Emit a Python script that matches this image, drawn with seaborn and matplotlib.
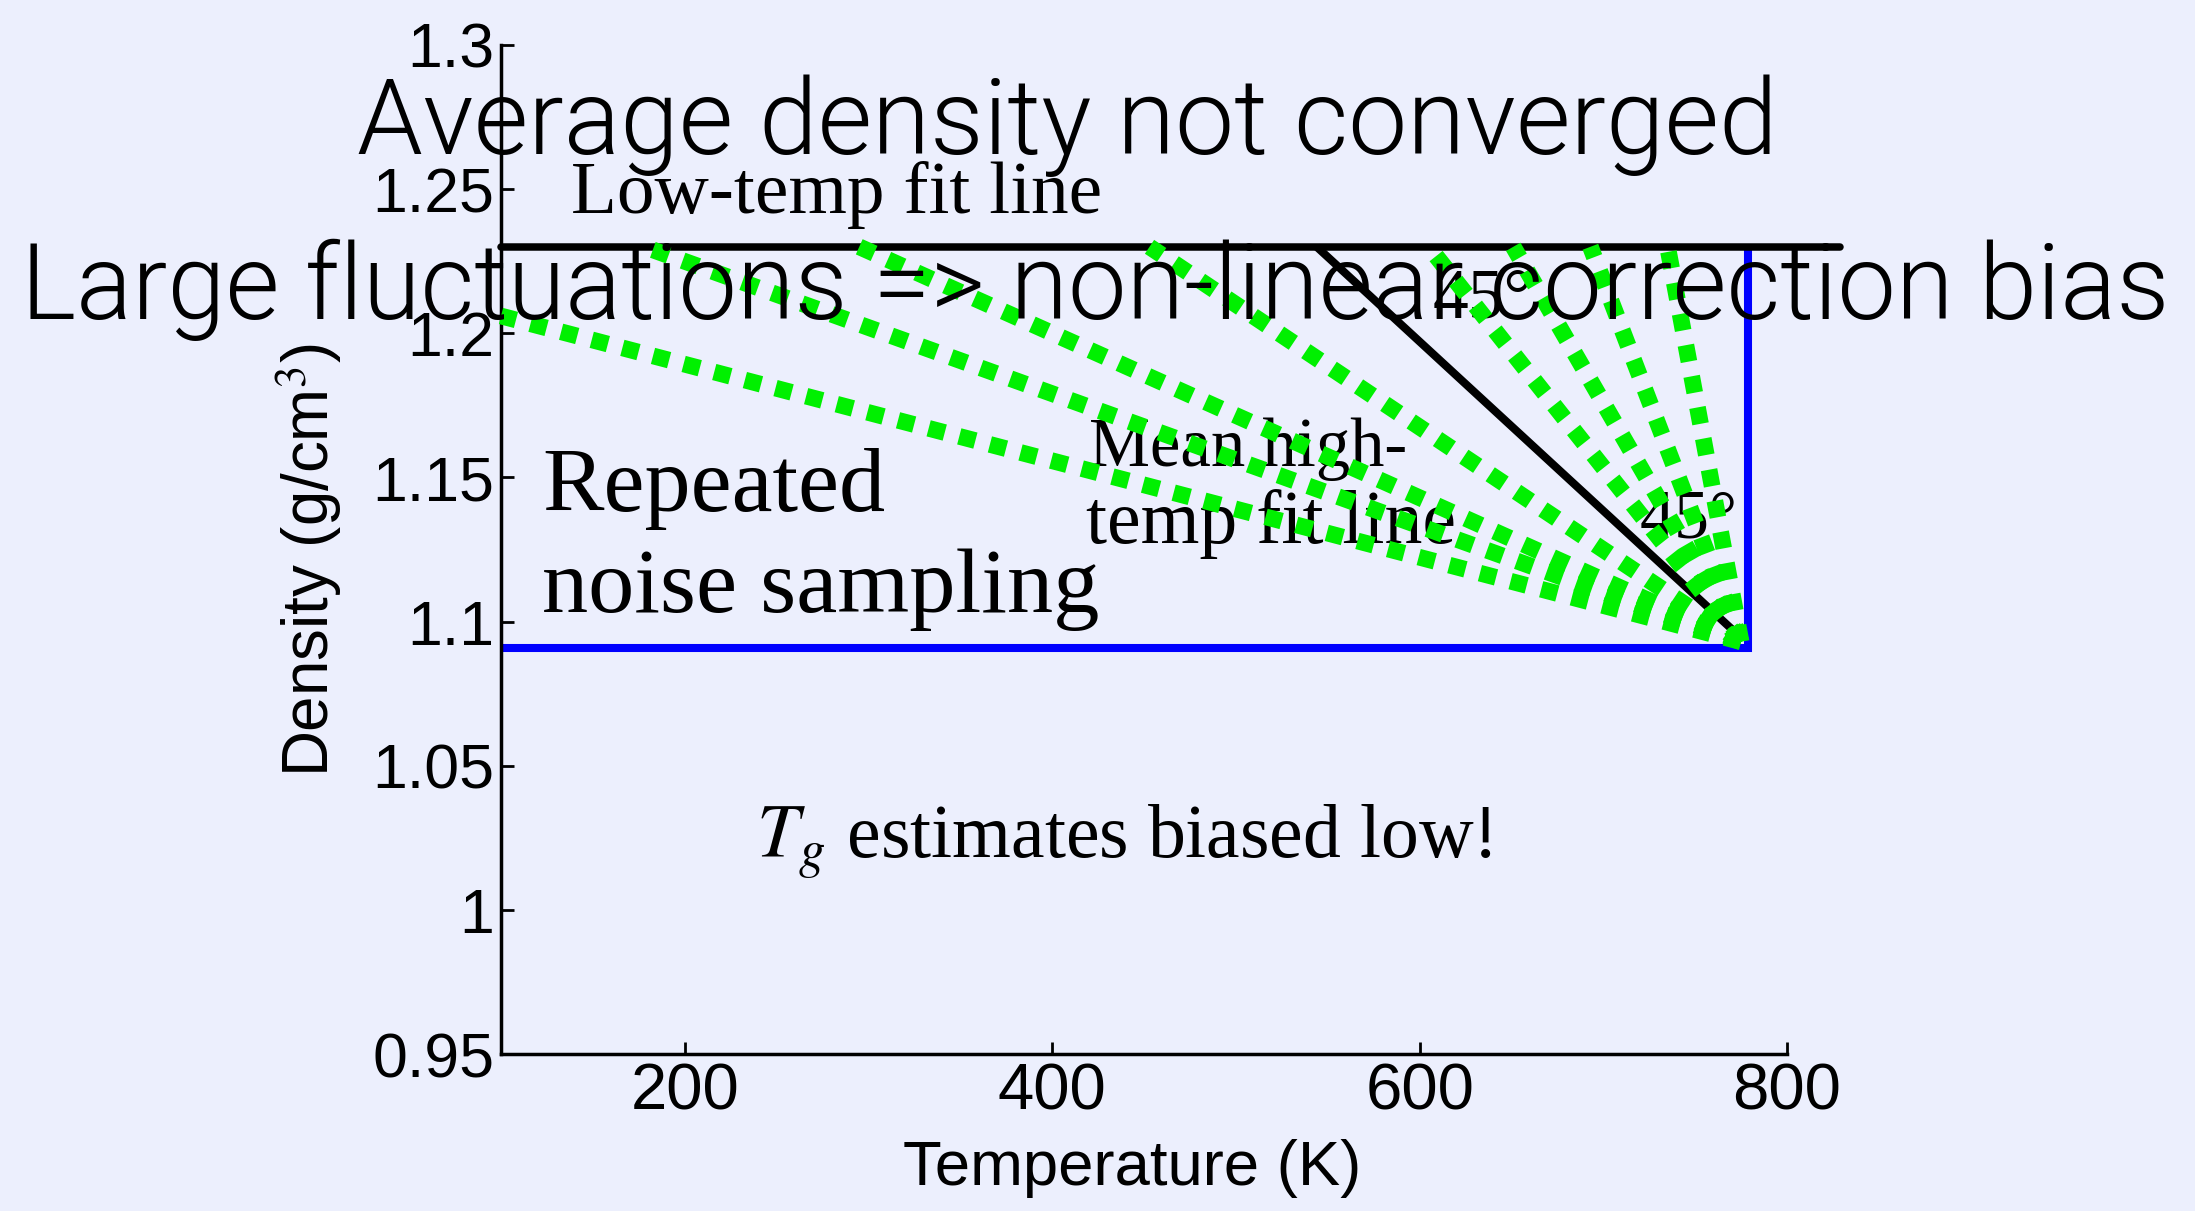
import matplotlib
matplotlib.use("Agg")
import matplotlib.pyplot as plt
from matplotlib import font_manager
import pandas as pd
import seaborn as sns

# ---------------------------------------------------------------- data
temp_ticks = [200, 400, 600, 800]
density_ticks = [0.95, 1.00, 1.05, 1.10, 1.15, 1.20, 1.25, 1.30]
density_tick_labels = ["0.95", "1", "1.05", "1.1", "1.15", "1.2", "1.25", "1.3"]

# low-temperature fit line (glassy plateau)
low_fit_temp = [100, 829]
low_fit_density = [1.23, 1.23]

# sampled window (blue frame)
box_temp = [100, 779, 779]
box_density = [1.091, 1.091, 1.23]

# 45-degree reference line
ref_temp = [544, 774]
ref_density = [1.23, 1.095]

# repeated high-temperature fits, all pivoting on one point
pivot_temp = 775
pivot_density = 1.093
fan_end_temp = [100, 178, 295, 453, 605, 651, 693, 735]
fan_end_density = [1.206, 1.23, 1.23, 1.23, 1.23, 1.23, 1.23, 1.23]

# ---------------------------------------------------------------- style
W, H, DPI = 2195, 1211, 100
BG = "#ECEFFD"
GREEN = "#00F000"
BLUE = "#0000FF"
SERIF = ["Liberation Serif", "DejaVu Serif"]

sns.set_theme(style="ticks")
plt.rcParams["font.family"] = ["Liberation Sans", "DejaVu Sans"]
plt.rcParams["mathtext.fontset"] = "stix"
plt.rcParams["text.color"] = "black"
plt.rcParams["axes.labelcolor"] = "black"


def light_family():
    for fam in ["Roboto", "Open Sans", "Lato", "Noto Sans", "Inter"]:
        for f in font_manager.fontManager.ttflist:
            w = f.weight
            if isinstance(w, str):
                w = font_manager.weight_dict.get(w, 400)
            if f.name == fam and w <= 300 and f.style == "normal":
                return fam
    return "Liberation Sans"


LIGHT = [light_family(), "DejaVu Sans"]


def fig_xy(x, y):
    """pixel position (from the top-left corner) -> figure fraction"""
    return x / W, 1 - y / H


fig = plt.figure(figsize=(W / DPI, H / DPI), dpi=DPI, facecolor=BG)
ax = fig.add_axes([501 / W, 1 - 1054 / H, (1787 - 501) / W, (1054 - 45) / H])
ax.set_facecolor(BG)

# ---------------------------------------------------------------- lines
sns.lineplot(x=box_temp, y=box_density, sort=False, estimator=None,
             color=BLUE, linewidth=5.8, solid_joinstyle="miter",
             solid_capstyle="butt", clip_on=False, zorder=2, ax=ax)

sns.lineplot(x=low_fit_temp, y=low_fit_density, sort=False, estimator=None,
             color="black", linewidth=5.4, solid_capstyle="round",
             clip_on=False, zorder=2.5, ax=ax)

sns.lineplot(x=ref_temp, y=ref_density, sort=False, estimator=None,
             color="black", linewidth=5.8, solid_capstyle="butt",
             clip_on=False, zorder=2.5, ax=ax)

rows = []
for i, (t, d) in enumerate(zip(fan_end_temp, fan_end_density)):
    rows.append({"line": i, "temp": pivot_temp, "density": pivot_density})
    rows.append({"line": i, "temp": t, "density": d})
fan_df = pd.DataFrame(rows)

sns.lineplot(data=fan_df, x="temp", y="density", units="line",
             estimator=None, sort=False, color=GREEN, linewidth=12,
             linestyle=(0, (1, 0.9)), dash_capstyle="butt",
             clip_on=False, zorder=5, legend=False, ax=ax)

# ---------------------------------------------------------------- axes
ax.set_xlim(100, 800)
ax.set_ylim(0.95, 1.30)
ax.set_xticks(temp_ticks)
ax.set_xticklabels([str(t) for t in temp_ticks])
ax.set_yticks(density_ticks)
ax.set_yticklabels(density_tick_labels)
sns.despine(ax=ax)
for side in ("left", "bottom"):
    ax.spines[side].set_linewidth(2.5)
    ax.spines[side].set_color("black")
ax.tick_params(direction="in", length=9, width=2, colors="black",
               labelsize=45)
ax.tick_params(axis="y", pad=5)
ax.tick_params(axis="x", labelsize=47, pad=6)

xl = ax.set_xlabel("Temperature (K)", fontsize=45, color="black")
ax.xaxis.set_label_coords(0.4907, -0.084)
yl = ax.set_ylabel("Density (g/cm$^{3}$)", fontsize=43, va="center",
                   color="black")
ax.yaxis.set_label_coords(-0.1500, 0.4896)

# ---------------------------------------------------------------- notes
notes = []


def note(x, y, s, width, size, **kw):
    t = ax.text(*fig_xy(x, y), s, transform=fig.transFigure, ha="left",
                va="baseline", family=SERIF, fontsize=size, color="black",
                zorder=3, **kw)
    notes.append((t, width))
    return t


note(571, 213, "Low-temp fit line", 531, 50)
note(542, 511, "Repeated", 343, 66)
note(542, 612, "noise sampling", 557, 66)
note(1089, 466, "Mean high-", 318, 50)
note(1086, 543, "temp fit line", 370, 52)
note(756, 857, "$T_g$ estimates biased low!", 736, 52)
note(1433, 318, "45°", 100, 52)
note(1640, 537, "45°", 98, 48)

heads = []
for x, y, s, width in [
    (357, 154, "Average density not converged", 1421),
    (21, 319, "Large fluctuations => non-linear correction bias", 2149),
]:
    t = fig.text(*fig_xy(x, y), s, ha="left", va="baseline", family=LIGHT,
                 fontweight=300, fontsize=72, color="black", zorder=10)
    heads.append((t, width))

# scale every text so its drawn width matches its slot
renderer = fig.canvas.get_renderer()
for _ in range(2):
    for t, width in notes + heads:
        w = t.get_window_extent(renderer).width
        t.set_fontsize(t.get_fontsize() * width / w)
    w = xl.get_window_extent(renderer).width
    xl.set_fontsize(xl.get_fontsize() * 458 / w)
    h = yl.get_window_extent(renderer).height
    yl.set_fontsize(yl.get_fontsize() * 434 / h)

fig.savefig("out.png", dpi=DPI, facecolor=BG)
